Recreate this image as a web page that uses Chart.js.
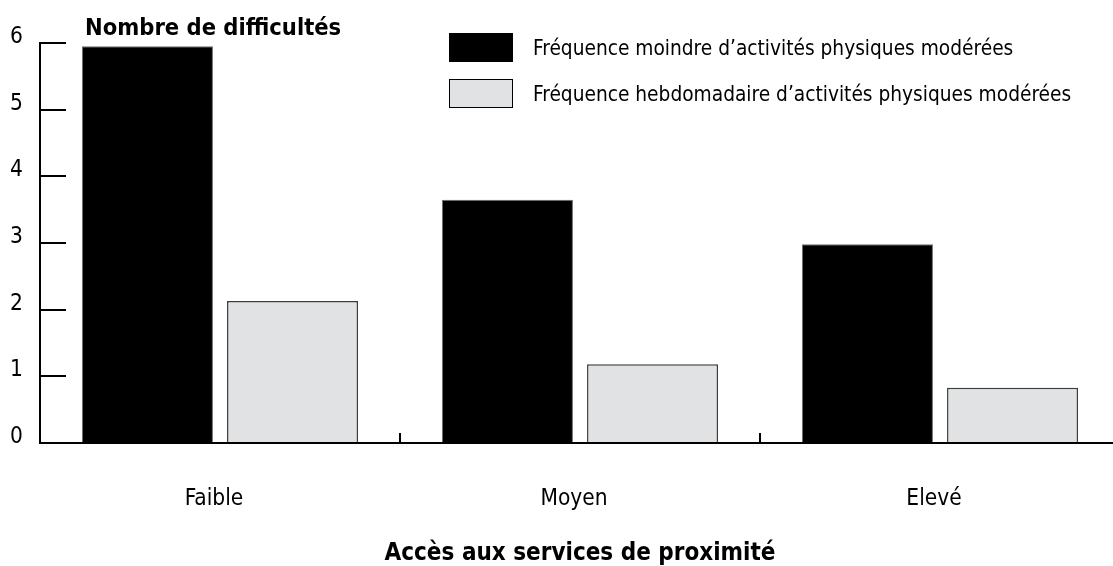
<!DOCTYPE html>
<html lang="fr">
<head>
<meta charset="utf-8">
<title>Nombre de difficultés</title>
<script src="https://cdn.jsdelivr.net/npm/chart.js@4.4.1/dist/chart.umd.min.js"></script>
<style>
  html, body { margin: 0; padding: 0; background: #fff; overflow: hidden; }
  #wrap { position: relative; width: 1120px; height: 566px; }
  #chart { position: absolute; left: 0; top: 0; }
  .ytitle {
    position: absolute; left: 85px; top: 13px;
    font: bold 23.5px "DejaVu Sans Condensed", "DejaVu Sans", sans-serif; color: #000;
  }
  #legend { position: absolute; left: 449px; top: 33px; }
  .item {
    display: flex; align-items: center; height: 29px; margin-bottom: 17px;
    font: 20.7px "DejaVu Sans Condensed", "DejaVu Sans", sans-serif; color: #000;
  }
  .box { width: 62px; height: 27px; border: 1px solid #000; margin-right: 20px; }
</style>
</head>
<body>
<div id="wrap">
  <canvas id="chart" width="1120" height="566"></canvas>
  <div class="ytitle">Nombre de difficultés</div>
  <div id="legend"></div>
</div>
<script>
const FONT = '"DejaVu Sans Condensed", "DejaVu Sans", sans-serif';

const categories = ["Faible", "Moyen", "Elevé"];
const seriesLabels = [
  "Fréquence moindre d’activités physiques modérées",
  "Fréquence hebdomadaire d’activités physiques modérées"
];
const moindre = [5.95, 3.65, 2.98];
const hebdomadaire = [2.13, 1.18, 0.83];
const yMin = 0, yMax = 6, yStep = 1;

const fills = ["#000000", "#e1e2e4"];
const edges = ["#6e6e6e", "#3c3c3c"];

// légende à droite du titre
const legend = document.getElementById("legend");
seriesLabels.forEach((lab, i) => {
  const row = document.createElement("div");
  row.className = "item";
  const box = document.createElement("div");
  box.className = "box";
  box.style.background = fills[i];
  row.appendChild(box);
  row.appendChild(document.createTextNode(lab));
  legend.appendChild(row);
});

// pas de marge automatique autour des axes : la zone du graphique est fixée par layout.padding
function noPad(s) {
  s.paddingTop = 0;
  s.paddingBottom = 0;
  s.paddingLeft = 0;
  s.paddingRight = 0;
}

new Chart(document.getElementById("chart"), {
  type: "bar",
  data: {
    labels: categories,
    datasets: [
      {
        label: seriesLabels[0],
        data: moindre,
        backgroundColor: fills[0],
        borderColor: edges[0],
        borderWidth: 1,
        barPercentage: 0.903,
        categoryPercentage: 0.806
      },
      {
        label: seriesLabels[1],
        data: hebdomadaire,
        backgroundColor: fills[1],
        borderColor: edges[1],
        borderWidth: 1.5,
        barPercentage: 0.903,
        categoryPercentage: 0.806
      }
    ]
  },
  options: {
    responsive: false,
    animation: false,
    devicePixelRatio: 1,
    layout: { padding: { top: 43, left: 0, right: 0, bottom: 0 } },
    plugins: {
      legend: { display: false },
      tooltip: { enabled: false }
    },
    scales: {
      x: {
        grid: { offset: true, drawOnChartArea: false, tickLength: -10, lineWidth: 2, color: "#000" },
        border: { color: "#000", width: 2 },
        ticks: {
          color: "#000",
          font: { family: FONT, size: 22.5 },
          padding: 53,
          labelOffset: -6,
          maxRotation: 0
        },
        title: {
          display: true,
          text: "Accès aux services de proximité",
          color: "#000",
          font: { family: FONT, size: 24, weight: "bold" },
          padding: { top: 0, bottom: -2 }
        },
        afterFit: s => { s.height = 123; noPad(s); }
      },
      y: {
        min: yMin,
        max: yMax,
        ticks: {
          stepSize: yStep,
          color: "#000",
          font: { family: FONT, size: 22.5 },
          padding: 43,
          labelOffset: -6
        },
        grid: { drawOnChartArea: false, tickLength: -26, lineWidth: 2, color: "#000" },
        border: { color: "#000", width: 2 },
        afterFit: s => { s.width = 40; noPad(s); }
      }
    }
  }
});
</script>
</body>
</html>
